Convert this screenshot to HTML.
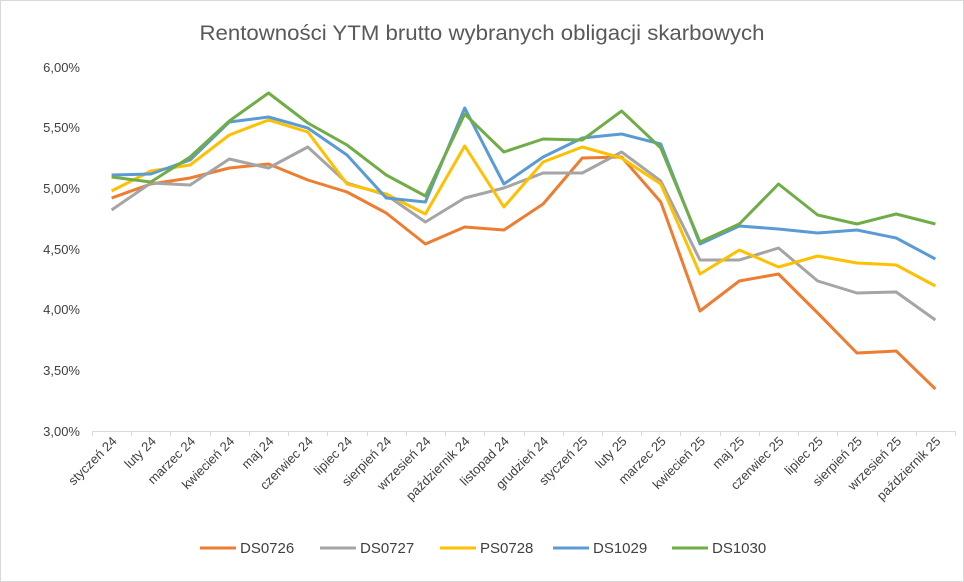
<!DOCTYPE html>
<html><head><meta charset="utf-8"><style>
body{margin:0;background:#fff}
svg{display:block;font-family:"Liberation Sans",sans-serif}
</style></head><body>
<svg width="964" height="582" viewBox="0 0 964 582">
<rect x="0.5" y="0.5" width="963" height="581" fill="#fff" stroke="#d9d9d9"/>
<text x="482" y="40" text-anchor="middle" font-size="21.5" fill="#595959" textLength="565" lengthAdjust="spacingAndGlyphs">Rentowności YTM brutto wybranych obligacji skarbowych</text>
<g font-size="13" fill="#404040" text-anchor="end">
<text x="80" y="72">6,00%</text>
<text x="80" y="132">5,50%</text>
<text x="80" y="193">5,00%</text>
<text x="80" y="254">4,50%</text>
<text x="80" y="314">4,00%</text>
<text x="80" y="375">3,50%</text>
<text x="80" y="436">3,00%</text>
</g>
<line x1="92" y1="431.5" x2="955" y2="431.5" stroke="#d9d9d9"/>
<g stroke="#d9d9d9" id="ticks"></g>
<g font-size="13" fill="#404040" text-anchor="end" id="xl"></g>
<g fill="none" stroke-width="3" stroke-linejoin="round" id="series"></g>
<g font-size="15" fill="#404040">
<line x1="200" y1="548" x2="236" y2="548" stroke="#ed7d31" stroke-width="3"/><text x="240" y="553">DS0726</text>
<line x1="320" y1="548" x2="356" y2="548" stroke="#a5a5a5" stroke-width="3"/><text x="360" y="553">DS0727</text>
<line x1="440" y1="548" x2="476" y2="548" stroke="#ffc000" stroke-width="3"/><text x="480" y="553">PS0728</text>
<line x1="553" y1="548" x2="589" y2="548" stroke="#5b9bd5" stroke-width="3"/><text x="593" y="553">DS1029</text>
<line x1="672" y1="548" x2="708" y2="548" stroke="#70ad47" stroke-width="3"/><text x="712" y="553">DS1030</text>
</g>
</svg>
<script>
var ns="http://www.w3.org/2000/svg";
var labels=["styczeń 24","luty 24","marzec 24","kwiecień 24","maj 24","czerwiec 24","lipiec 24","sierpień 24","wrzesień 24","październik 24","listopad 24","grudzień 24","styczeń 25","luty 25","marzec 25","kwiecień 25","maj 25","czerwiec 25","lipiec 25","sierpień 25","wrzesień 25","październik 25"];
var x0=92,w=(955-92)/22;
var t=document.getElementById("ticks"),xl=document.getElementById("xl");
for(var i=0;i<=22;i++){var l=document.createElementNS(ns,"line");var xx=Math.round(x0+i*w)+0.5;l.setAttribute("x1",xx);l.setAttribute("x2",xx);l.setAttribute("y1",431);l.setAttribute("y2",436);t.appendChild(l);}
labels.forEach(function(s,i){var x=x0+(i+0.5)*w+6;var e=document.createElementNS(ns,"text");e.setAttribute("transform","translate("+x+",442) rotate(-45)");e.textContent=s;xl.appendChild(e);});
var data=[
["#ed7d31",[198,184,178,168,164,180,192,213,244,227,230,204,158,157,202,311,281,274,313,353,351,389]],
["#a5a5a5",[210,183,185,159,168,147,183,195,222,198,188,173,173,152,181,260,260,248,281,293,292,320]],
["#ffc000",[191,171,165,135,120,132,184,194,214,146,207,162,147,158,184,274,250,267,256,263,265,286]],
["#5b9bd5",[175,174,160,122,117,128,155,198,202,108,184,157,138,134,144,244,226,229,233,230,238,259]],
["#70ad47",[177,182,157,121,93,123,145,175,196,114,152,139,140,111,148,242,224,184,215,224,214,224]]];
var g=document.getElementById("series");
data.forEach(function(d){var p=document.createElementNS(ns,"polyline");p.setAttribute("stroke",d[0]);p.setAttribute("points",d[1].map(function(y,i){return (x0+(i+0.5)*w).toFixed(1)+","+y}).join(" "));g.appendChild(p);});
</script>
</body></html>
